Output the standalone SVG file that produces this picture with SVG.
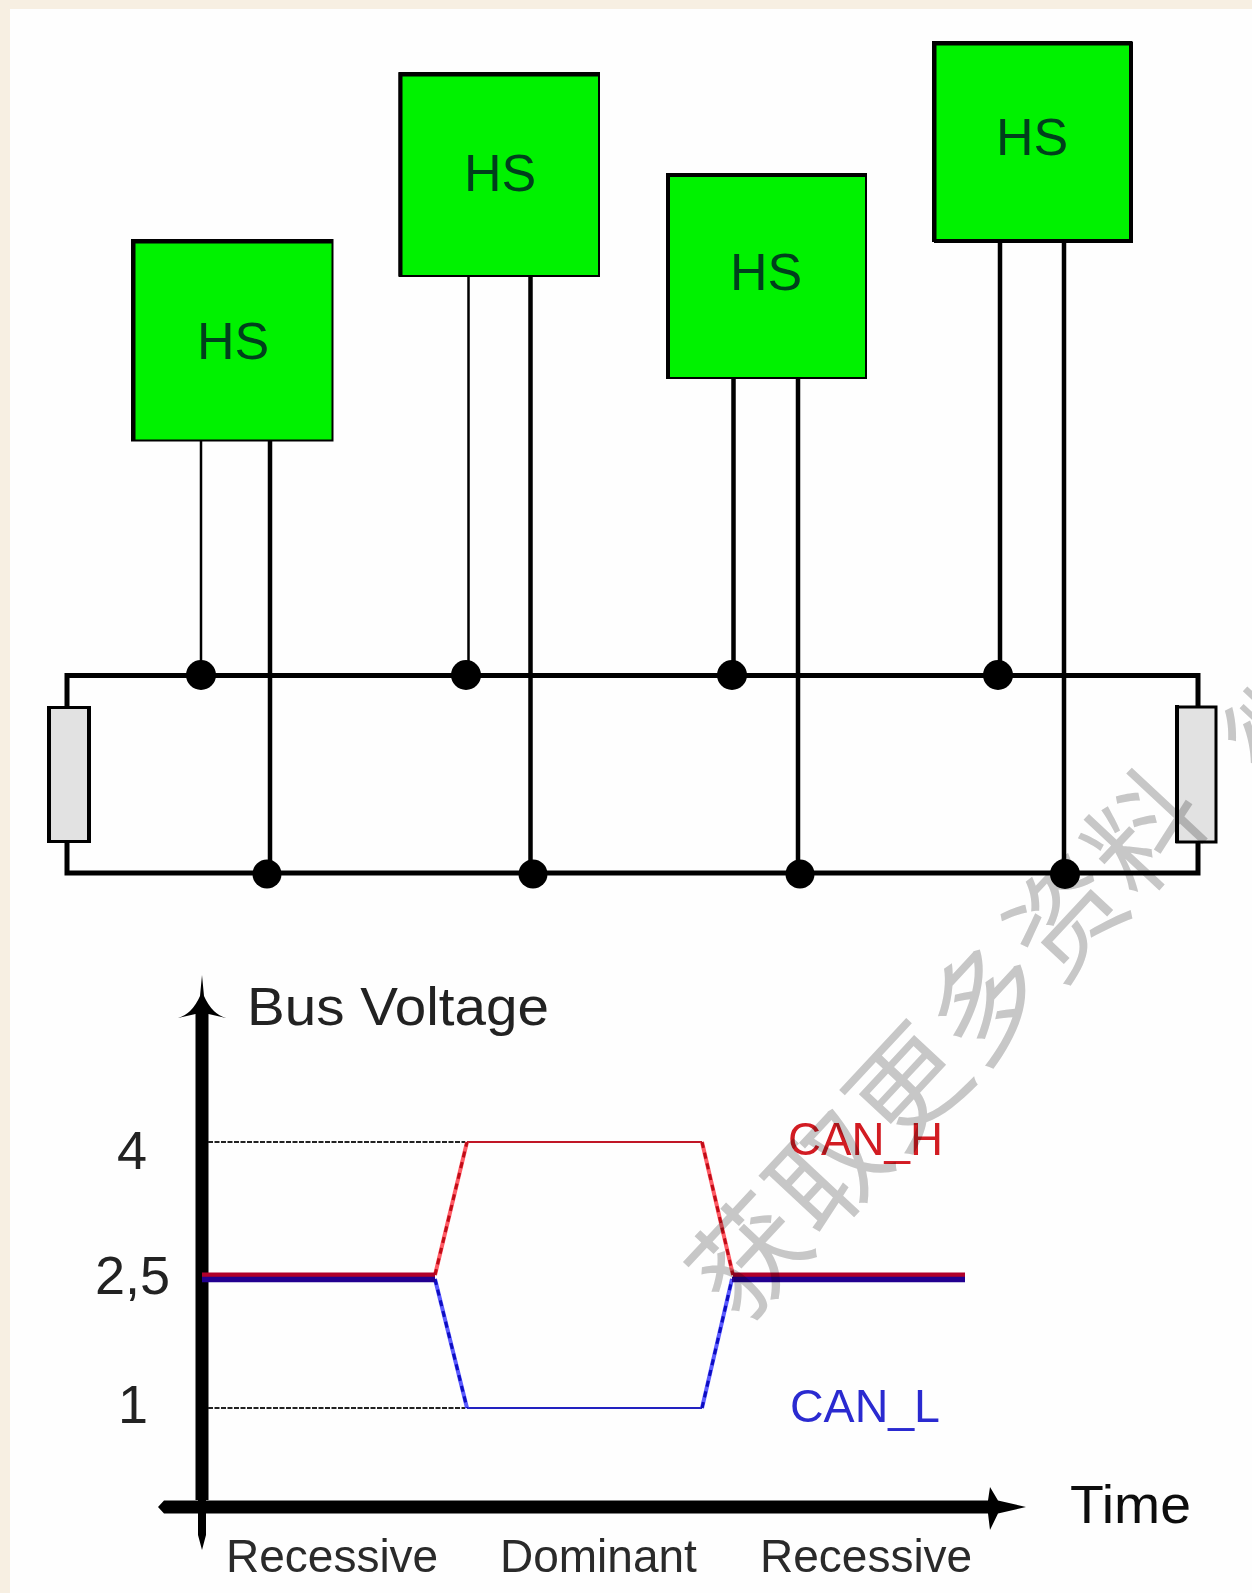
<svg xmlns="http://www.w3.org/2000/svg" width="1252" height="1593" viewBox="0 0 1252 1593">
<defs>
<style>
text{font-family:"Liberation Sans",Arial,sans-serif;fill:#111}
.box{fill:#00f200;stroke:#000;stroke-width:2}
.edge{fill:none;stroke:#000;stroke-width:4}
.hs{font-size:52px;text-anchor:middle;fill:#03401a}
.res{fill:#e2e2e2;stroke:#000;stroke-width:3}
.bus{fill:none;stroke:#000;stroke-width:5}
.w{stroke:#000;stroke-width:4.5}
.thin{stroke:#000;stroke-width:2.5}
.dot{fill:#000}
.dash{stroke:#222;stroke-width:1.8;stroke-dasharray:5 1.5}
.lab{font-size:54px;fill:#222}
.sm{font-size:46px;fill:#2a2a2a}
.wm{font-family:"Noto Sans CJK SC","Noto Sans",sans-serif;font-size:113px;font-weight:400;fill:#c8c8c8;letter-spacing:3px;mix-blend-mode:multiply}
</style>
<filter id="soft" x="0" y="0" width="1252" height="1593" filterUnits="userSpaceOnUse"><feGaussianBlur stdDeviation="0.7"/></filter>
</defs>
<rect width="1252" height="1593" fill="#f7efe2"/>
<rect x="10" y="9" width="1242" height="1584" fill="#fefefe"/>
<g filter="url(#soft)">
<g id="connectors">
<path class="bus" d="M67 735V675.500H1198V735M67 840V873H1198V840"/>
<path class="thin" d="M201 440V676M468.500 276V676"/>
<path class="w" d="M270 440V873M530.500 276V873M733.500 378V676M798 378V873M1000 242V676M1064 242V873"/>
<g class="dot"><circle cx="201" cy="675" r="15"/><circle cx="466" cy="675" r="15"/><circle cx="732" cy="675" r="15"/><circle cx="998" cy="675" r="15"/><circle cx="267" cy="874" r="14.500"/><circle cx="533" cy="874" r="14.500"/><circle cx="800" cy="874" r="14.500"/><circle cx="1065" cy="874" r="15"/></g>
</g>
<g id="node1"><rect class="box" x="132" y="240" width="200.500" height="200.500"/><path class="edge" d="M133.500 441V241.500H333"/><text class="hs" x="233" y="359">HS</text></g>
<g id="node2"><rect class="box" x="399.500" y="73" width="199.500" height="203"/><path class="edge" d="M400.500 276V74.500H599"/><text class="hs" x="500" y="191">HS</text></g>
<g id="node3"><rect class="box" x="667" y="174" width="199" height="204"/><path class="edge" d="M668 378V175H866"/><text class="hs" x="766" y="290">HS</text></g>
<g id="node4"><rect class="box" x="933" y="42" width="198" height="199"/><path class="edge" d="M934.500 241V43.500H1131V241H934"/><text class="hs" x="1032" y="155">HS</text></g>
<g id="resistor-left"><rect class="res" x="49" y="707.500" width="40" height="134"/><path class="edge" d="M49 706V843M89 706V843" stroke-width="5"/></g>
<g id="resistor-right"><rect class="res" x="1177" y="707" width="39" height="135"/><path class="edge" d="M1177 705V843"/></g>
<g id="chart">
<path d="M202 975L204 996Q212 1014 226 1018L208.500 1014V1500H206V1535L202 1550L198 1535V1500H195.500V1014L178 1018Q192 1014 200 996Z" fill="#000"/>
<path d="M158 1507L164 1500.500H988L990 1487L998 1500.500L1026 1507L998 1513.500L990 1530L988 1513.500H164Z" fill="#000"/>
<path class="dash" d="M208 1142H465M208 1408H465"/>
<path d="M467 1142H702" fill="none" stroke="#c01828" stroke-width="2"/>
<path d="M435 1275L467 1142M702 1142L733 1275" fill="none" stroke="#ff5a64" stroke-width="4"/>
<path d="M435 1275L467 1142M702 1142L733 1275" fill="none" stroke="#c00818" stroke-width="3" stroke-dasharray="6 5"/>
<path d="M202 1275H435M733 1275H965" fill="none" stroke="#b0002a" stroke-width="5"/>
<path d="M467 1408H702" fill="none" stroke="#2020c0" stroke-width="2"/>
<path d="M435 1279L467 1408M702 1408L732 1279" fill="none" stroke="#5a5aff" stroke-width="4"/>
<path d="M435 1279L467 1408M702 1408L732 1279" fill="none" stroke="#0808c0" stroke-width="3" stroke-dasharray="6 5"/>
<path d="M202 1279.500H435M732 1279.500H965" fill="none" stroke="#200090" stroke-width="5.500"/>
<text class="lab" x="247" y="1025" textLength="302" lengthAdjust="spacingAndGlyphs">Bus Voltage</text>
<text class="lab" x="117" y="1169">4</text>
<text class="lab" x="95" y="1294">2,5</text>
<text class="lab" x="118" y="1423">1</text>
<text class="sm" x="788" y="1155" textLength="155" lengthAdjust="spacingAndGlyphs" style="fill:#d21a24">CAN_H</text>
<text class="sm" x="790" y="1422" textLength="150" lengthAdjust="spacingAndGlyphs" style="fill:#2a2ad0">CAN_L</text>
<text class="lab" x="1070" y="1523" textLength="121" lengthAdjust="spacingAndGlyphs" style="fill:#111">Time</text>
<text class="sm" x="226" y="1572">Recessive</text>
<text class="sm" x="500" y="1572">Dominant</text>
<text class="sm" x="760" y="1572">Recessive</text>
</g>
</g>
<text class="wm" transform="translate(750 1256) rotate(-47)" x="-57" y="41">获取更多资料</text>
<text class="wm" transform="translate(1288 722) rotate(-47)" x="-57" y="41">微</text>
</svg>
